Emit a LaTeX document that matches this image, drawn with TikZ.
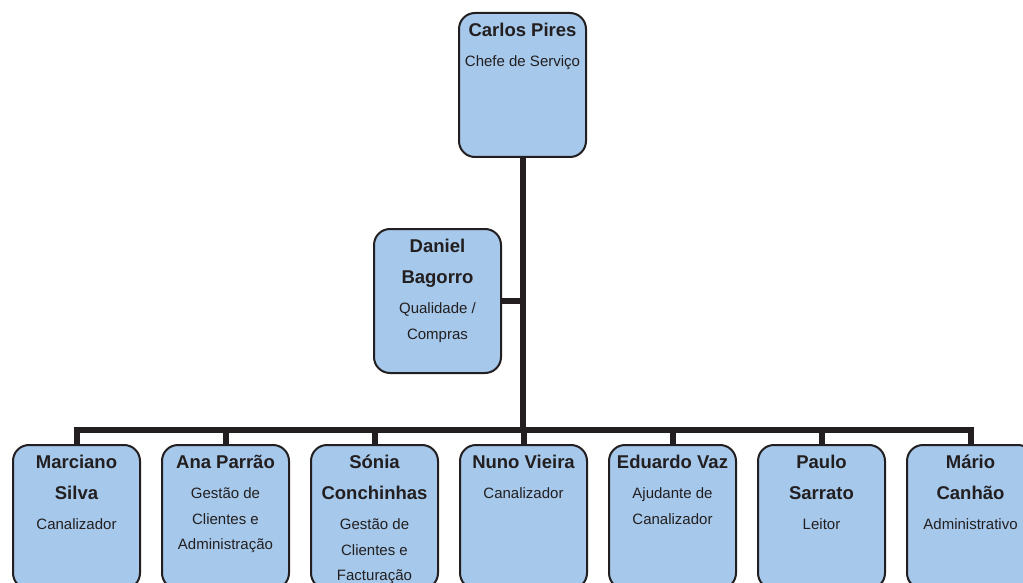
\documentclass[tikz,border=0pt]{standalone}
\usepackage{fontspec}
\setmainfont{Liberation Sans}
\usepackage{xcolor}
\definecolor{cFill}{HTML}{A5C8EB}
\definecolor{cInk}{HTML}{231F20}
\usepackage{tikz}
\usetikzlibrary{positioning}
\newcommand{\orgname}{\fontsize{18.5}{31}\selectfont\bfseries}
\tikzset{
  org-box/.style={draw=cInk,line width=2pt,fill=cFill,rounded corners=16pt,
    minimum width=127pt,minimum height=144pt,inner sep=0pt,anchor=north west},
  org-text/.style={anchor=north,inner sep=0pt,align=center,text=cInk,
    font=\fontsize{15}{25.5}\selectfont},
  org-line/.style={draw=cInk,line width=6pt},
}

\begin{document}
\begin{tikzpicture}[x=1pt,y=1pt,node distance=20pt]
  \useasboundingbox (0,0) rectangle (1023,-583);
  \clip (0,0) rectangle (1023,-583);
  % chefe de servico
  \node[org-box] (chefe) at (458,-12) {};
  \node[org-text] (chefe-t) at ([yshift=-8pt]chefe.north)
    {{\orgname\vphantom{Ó}Carlos Pires}\\[4.5pt]Chefe de Serviço};
  % staff
  \node[org-box] (daniel) at (373,-228) {};
  \node[org-text] (daniel-t) at ([yshift=-8pt]daniel.north)
    {{\orgname\vphantom{Ó}Daniel}\\[5.5pt]{\orgname Bagorro}\\[4.5pt]Qualidade /\\Compras};
  % equipa
  \node[org-box] (marciano) at (12,-444) {};
  \node[org-box,right=of marciano] (ana) {};
  \node[org-box,right=of ana] (sonia) {};
  \node[org-box,right=of sonia] (nuno) {};
  \node[org-box,right=of nuno] (eduardo) {};
  \node[org-box,right=of eduardo] (paulo) {};
  \node[org-box,right=of paulo] (mario) {};
  \node[org-text] (marciano-t) at ([yshift=-8pt]marciano.north)
    {{\orgname\vphantom{Ó}Marciano}\\[5.5pt]{\orgname Silva}\\[4.5pt]Canalizador};
  \node[org-text] (ana-t) at ([yshift=-8pt]ana.north)
    {{\orgname\vphantom{Ó}Ana Parrão}\\[4.5pt]Gestão de\\Clientes e\\Administração};
  \node[org-text] (sonia-t) at ([yshift=-8pt]sonia.north)
    {{\orgname\vphantom{Ó}Sónia}\\[5.5pt]{\orgname Conchinhas}\\[4.5pt]Gestão de\\Clientes e\\Facturação};
  \node[org-text] (nuno-t) at ([yshift=-8pt]nuno.north)
    {{\orgname\vphantom{Ó}Nuno Vieira}\\[4.5pt]Canalizador};
  \node[org-text] (eduardo-t) at ([yshift=-8pt]eduardo.north)
    {{\orgname\vphantom{Ó}Eduardo Vaz}\\[4.5pt]Ajudante de\\Canalizador};
  \node[org-text] (paulo-t) at ([yshift=-8pt]paulo.north)
    {{\orgname\vphantom{Ó}Paulo}\\[5.5pt]{\orgname Sarrato}\\[4.5pt]Leitor};
  \node[org-text] (mario-t) at ([yshift=-8pt]mario.north)
    {{\orgname\vphantom{Ó}Mário}\\[5.5pt]{\orgname Canhão}\\[4.5pt]Administrativo};
  % ligacoes
  \coordinate (bar) at (chefe.south |- 0,-430);
  \draw[org-line] (chefe.south) -- (bar);
  \draw[org-line] (daniel.east) -- (daniel.east -| chefe.south);
  \draw[org-line] (marciano.north) |- (bar) -| (mario.north);
  \foreach \b in {ana,sonia,nuno,eduardo,paulo}
    \draw[org-line] (\b.north) -- (\b.north |- bar);
\end{tikzpicture}
\end{document}
